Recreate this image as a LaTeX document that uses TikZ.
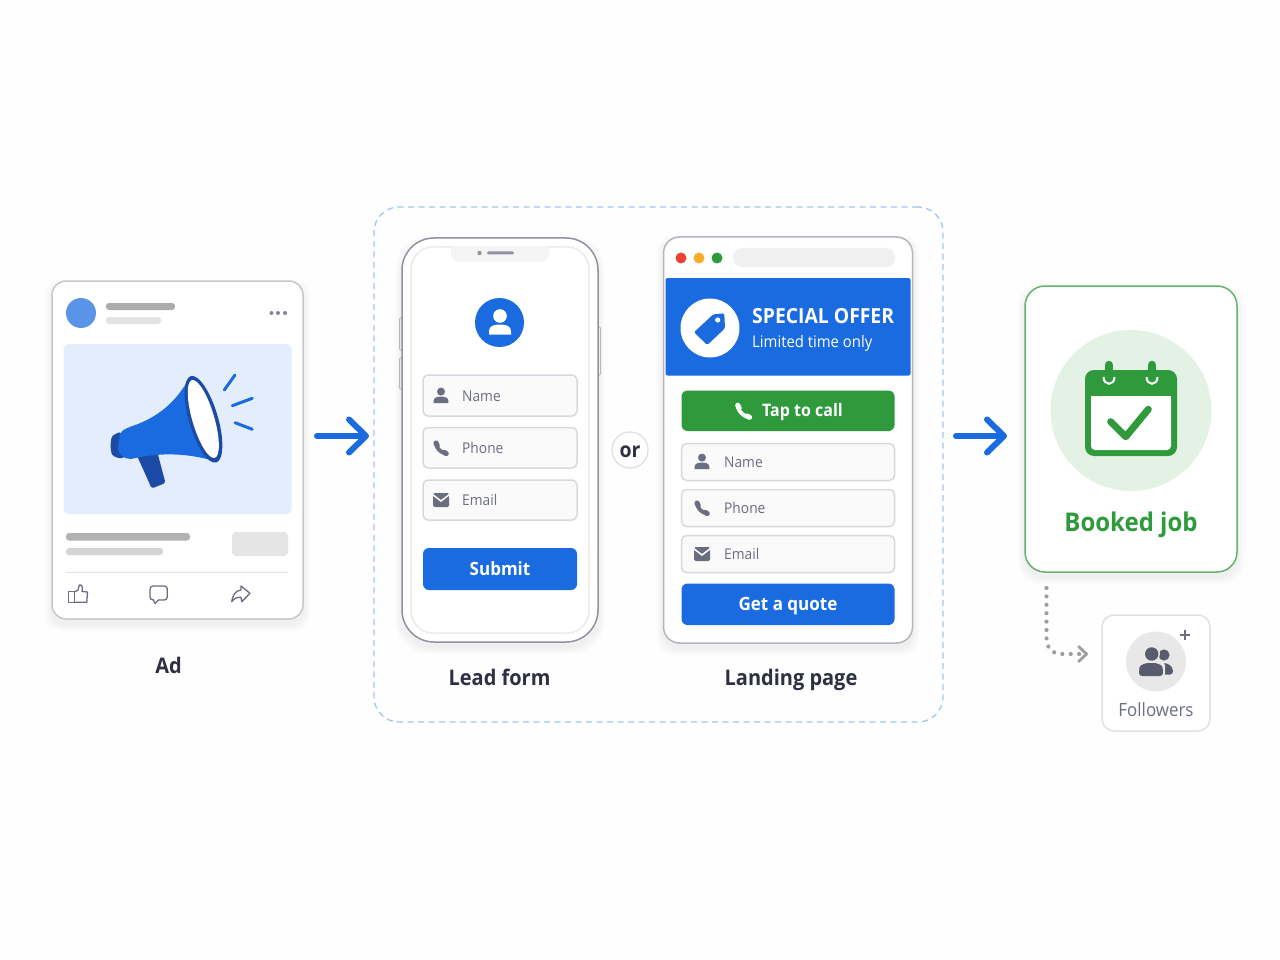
\documentclass[tikz,border=0pt]{standalone}
\usepackage{fontspec}
\setmainfont{Open Sans}[FakeStretch=0.93]
\usetikzlibrary{arrows.meta,calc}
\definecolor{brand}{HTML}{1A6BE0}
\definecolor{branddark}{HTML}{1B4BA6}
\definecolor{go}{HTML}{2E9A3B}
\definecolor{ink}{HTML}{2D3040}
\definecolor{slate}{HTML}{6B6E80}
\definecolor{line}{HTML}{D8D9DE}
\tikzset{
  x=1pt,y=-1pt,
  box/.style={draw=none,rectangle,inner sep=0pt,outer sep=0pt},
  card/.style={box,draw=#1,fill=white,line width=1.5pt},
  field/.style={box,draw=line,fill=white!98!black,line width=1.5pt,rounded corners=5pt},
  action/.style={box,fill=#1,text=white,font=\fontsize{18.3}{20}\selectfont\bfseries,rounded corners=6pt,text height=15pt,text depth=2pt},
  caption/.style={inner sep=0pt,text=ink,font=\fontsize{21.5}{24}\selectfont\bfseries,text height=16pt,text depth=5pt},
  hint/.style={inner sep=0pt,anchor=west,text=slate,font=\fontsize{14.8}{16}\selectfont},
  flow/.style={draw=brand,line width=6pt,line cap=round,-{Straight Barb[length=17pt,width=33pt,line width=6pt,round]}},
  icon/.style={fill=slate,draw=none},
  outline/.style={draw=slate,line width=1.3pt,fill=none,line join=round,line cap=round},
}
% Box node given by its corners
\newcommand\panel[7][]{%
  \pgfmathsetmacro\cxx{(#4+#6)/2}\pgfmathsetmacro\cyy{(#5+#7)/2}%
  \pgfmathsetmacro\wdd{#6-#4}\pgfmathsetmacro\htt{#7-#5}%
  \node[#3,minimum width=\wdd pt,minimum height=\htt pt] (#2) at (\cxx,\cyy) {#1};}
% Soft drop shadow built from stacked translucent outlines
\newcommand\softshadow[5]{%
  \foreach \g in {1,2,...,7}{%
    \fill[black,opacity=0.008,rounded corners=#5 pt]
      (#1-\g,#2-\g+5) rectangle (#3+\g,#4+\g+5);}}
% Small field glyphs
\newcommand\personglyph[2]{\begin{scope}[shift={(#1,#2)}]
  \fill[icon] (0,-4.4) circle (4);
  \fill[icon] (-7.3,7) -- (-7.3,4.6) .. controls (-7.3,1.4) and (-3.5,0.6) .. (0,0.6)
     .. controls (3.5,0.6) and (7.3,1.4) .. (7.3,4.6) -- (7.3,7) -- cycle;
\end{scope}}
\newcommand\phonepath[1]{%
  \draw[#1,line width=3.8pt,line cap=round] (-4.6,-3) .. controls (-3.8,0.6) and (-0.6,4) .. (3.6,5);
  \draw[#1,line width=5.2pt,line cap=round] (-5,-5) -- (-3.8,-2.4);
  \draw[#1,line width=5.2pt,line cap=round] (2.8,4.4) -- (5.2,5.4);}
\newcommand\phoneglyph[2]{\begin{scope}[shift={(#1,#2)}]\phonepath{slate}\end{scope}}
\newcommand\mailglyph[2]{\begin{scope}[shift={(#1,#2)}]
  \fill[icon,rounded corners=1.5pt] (-8,-7) rectangle (8,7);
  \draw[white,line width=1.5pt] (-8.5,-5.5) -- (0,1) -- (8.5,-5.5);
\end{scope}}
\begin{document}
\begin{tikzpicture}
\useasboundingbox (0,0) rectangle (1280,960);
\fill[white!99.5!blue] (0,0) rectangle (1280,960);

% Dashed group around the two capture options
\panel{group}{box,draw=brand!40!white,dashed,dash pattern=on 6pt off 4.5pt,line width=1.3pt,rounded corners=25pt}{374}{207}{943}{722}

% ---- Ad card ----
\softshadow{52}{281}{303}{619}{14}
\panel{ad}{card=black!22!white,rounded corners=14pt}{52}{281}{303}{619}
\fill[brand!72!white] (81,313) circle (15);
\fill[black!33!white,rounded corners=3pt] (106,303) rectangle (175,310);
\fill[black!11!white,rounded corners=3pt] (106,317) rectangle (161,324);
\foreach \d in {271.5,278,285}{\fill[slate!85!white] (\d,313) circle (2);}
\fill[brand!12!white,rounded corners=5pt] (63.5,344) rectangle (291.5,514);
% megaphone
\fill[branddark,rounded corners=4pt] (122,432) -- (116,433) .. controls (110,438) and (110,452) .. (115,458) -- (126,458) -- cycle;
\fill[branddark,rounded corners=2.5pt] (136.7,455) -- (157,451) -- (165.5,483) -- (151.7,488.5) -- cycle;
\fill[brand] (120,434) .. controls (122,429) and (130,427) .. (138,424)
   .. controls (160,415) and (176,402) .. (190,377) -- (217,462)
   .. controls (190,453) and (160,452) .. (131,459) .. controls (124,459) and (118,455) .. (118,447) -- cycle;
\fill[branddark,shift={(203.5,419.3)},rotate=-73.6] (0,0) ellipse [x radius=45,y radius=14.5];
\fill[white,shift={(203.3,419)},rotate=-73.6] (0,0) ellipse [x radius=40.5,y radius=11];
\draw[brand,line width=3pt,line cap=round] (224.3,390) -- (235,375)
   (232.3,405.7) -- (252.3,398.3) (235,422.7) -- (252.3,429.3);
\fill[black!30!white,rounded corners=3pt] (66,533) rectangle (190,540.5);
\fill[black!17!white,rounded corners=3pt] (66,548) rectangle (163,555);
\fill[black!10!white,rounded corners=4pt] (232,532) rectangle (288,556);
\draw[black!10!white,line width=1pt] (66,572) -- (288,572);
% reactions
\draw[outline] (68.3,591.7) rectangle (74.3,602.3);
\draw[outline] (74.3,592) -- (78,590) -- (79.3,585) .. controls (82,584.5) and (83,587) .. (82,591.5)
   -- (87.5,592) -- (86.8,602.3) -- (74.3,602.3);
\draw[outline,rounded corners=3pt] (150,586) rectangle (167.3,600);
\fill[white] (153.5,599) rectangle (158,601);
\draw[outline] (153.5,600) -- (155,603.5) -- (158.5,600);
\draw[outline] (250,593.3) -- (241,586) -- (241,590) .. controls (235,590.5) and (232.5,596) .. (231.7,601.7)
   .. controls (234,598.5) and (237,597) .. (241,597.3) -- (241.7,601.7) -- cycle;
\node[caption] (adlabel) at (168.5,667.7) {Ad};

% ---- Phone with lead form ----
\softshadow{402}{238}{598}{642}{32}
\foreach \yy/\hh in {318/350,358/389}{\fill[black!6!white,draw=black!28!white,line width=1pt,rounded corners=1pt] (399.5,\yy) rectangle (403,\hh);}
\fill[black!6!white,draw=black!28!white,line width=1pt,rounded corners=1pt] (597,327) rectangle (600.5,375);
\panel{phone}{card=slate!75!white,rounded corners=32pt}{402}{238}{598}{642}
\panel{screen}{box,draw=black!8!white,fill=white,line width=1.5pt,rounded corners=22pt}{411}{247}{589}{633}
\fill[black!4!white,rounded corners=8pt] (451,240) rectangle (549,262);
\fill[white] (440,238.8) rectangle (560,246.2);
\fill[slate!75!white] (479.5,253) circle (2.2);
\fill[slate!75!white,rounded corners=1.4pt] (487,251.5) rectangle (514,254.5);
\panel{avatar}{box,circle,fill=brand,minimum size=49pt}{475}{298}{524}{347}
\fill[white] (500,316) circle (6.8);
\fill[white] (489,334.5) -- (489,331) .. controls (489,326) and (494,324.5) .. (500,324.5)
   .. controls (506,324.5) and (511,326) .. (511,331) -- (511,334.5) -- cycle;
\panel{fname}{field}{423}{375}{577}{416}
\personglyph{441}{396}
\node[hint] (fnamet) at (462,396) {Name};
\panel{fphone}{field}{423}{427.5}{577}{468}
\phoneglyph{441}{448}
\node[hint] (fphonet) at (462,448) {Phone};
\panel{fmail}{field}{423}{480}{577}{520}
\mailglyph{441}{500}
\node[hint] (fmailt) at (462,500) {Email};
\panel[Submit]{submit}{action=brand}{423}{548}{577}{590}
\node[caption] (leadlabel) at (499.5,679.5) {Lead form};

% ---- "or" badge ----
\panel[or]{orbadge}{box,circle,draw=black!12!white,fill=white,line width=1.3pt,minimum size=36pt,text=ink,font=\fontsize{21}{22}\selectfont\bfseries,text height=14pt,text depth=0pt}{612}{432}{648}{468}

% ---- Browser with landing page ----
\softshadow{663.5}{237}{912.5}{643}{16}
\panel{browser}{card=slate!50!white,rounded corners=16pt}{663.5}{237}{912.5}{643}
\definecolor{dotred}{HTML}{EA4335}\definecolor{dotamber}{HTML}{F9AB2B}
\fill[dotred] (681,258) circle (5.5);
\fill[dotamber] (699,258) circle (5.5);
\fill[go] (717,258) circle (5.5);
\fill[black!6!white,rounded corners=9pt] (733,248) rectangle (895,267);
\panel{banner}{box,fill=brand,rounded corners=2pt}{665.5}{278}{910.5}{375.5}
\fill[white] (710,328) circle (29.5);
\fill[brand,rounded corners=1.6pt] (724.3,313.3) -- (713.3,314.3) -- (694,332.3) -- (707.3,345) -- (725,328.3) -- cycle;
\fill[white] (717.7,320) circle (2.6);
\node[inner sep=0pt,anchor=west,text=white,font=\fontsize{20.8}{24}\selectfont\bfseries] (offer) at (752,316.5) {SPECIAL OFFER};
\node[inner sep=0pt,anchor=west,text=white,font=\fontsize{16}{18}\selectfont] (limited) at (752,343.5) {Limited time only};
\panel{tap}{action=go}{681.5}{390.5}{894.5}{431}
\begin{scope}[shift={(743.5,411)},scale=1.15]\phonepath{white}\end{scope}
\node[inner sep=0pt,anchor=west,text=white,font=\fontsize{17.2}{20}\selectfont\bfseries] (tapt) at (762,412.5) {Tap to call};
\panel{lname}{field}{681.5}{443.5}{894.5}{480.5}
\personglyph{702}{462}
\node[hint] (lnamet) at (724,462.5) {Name};
\panel{lphone}{field}{681.5}{489.5}{894.5}{526.5}
\phoneglyph{702}{508}
\node[hint] (lphonet) at (724,508) {Phone};
\panel{lmail}{field}{681.5}{535.5}{894.5}{572.5}
\mailglyph{702}{554}
\node[hint] (lmailt) at (724,554) {Email};
\panel[Get a quote]{quote}{action=brand}{681.5}{583.5}{894.5}{625}
\node[caption] (landlabel) at (791,679.5) {Landing page};

% ---- Booked job card ----
\softshadow{1025}{286}{1237}{572}{20}
\panel{booked}{card=go!75!white,rounded corners=20pt}{1025}{286}{1237}{572}
\fill[go!13!white] (1131,410.5) circle (80.5);
\fill[go,rounded corners=9pt] (1085,370) rectangle (1177,456);
\fill[white,rounded corners=4pt] (1091,396) rectangle (1171,450);
\fill[white] (1091,396) rectangle (1171,402);
\foreach \rx in {1109,1152}{
  \draw[white,line width=2pt] (\rx-5.5,377) .. controls (\rx-5.5,386) and (\rx+5.5,386) .. (\rx+5.5,377);
  \draw[go,line width=8.5pt,line cap=round] (\rx,365) -- (\rx,376);
}
\draw[go,line width=7pt,line cap=round,line join=round] (1110.7,421.7) -- (1125.7,436.7) -- (1148.3,409.3);
\node[inner sep=0pt,text=go,font=\fontsize{25.8}{28}\selectfont\bfseries] (bookedt) at (1131,525) {Booked job};

% ---- Followers card ----
\panel{followers}{card=black!12!white,rounded corners=12pt}{1102}{615}{1210}{731}
\fill[black!9!white] (1156,661.5) circle (30);
\fill[slate!70!ink] (1164,655) circle (5.6);
\fill[slate!70!ink,rounded corners=3pt] (1160,663) .. controls (1168,663) and (1173,666) .. (1173,674.5) -- (1160,674.5) -- cycle;
\fill[black!9!white] (1151.7,654) circle (8.2);
\fill[black!9!white,rounded corners=4pt] (1137.5,661.5) rectangle (1165,678);
\fill[slate!70!ink] (1151.7,654) circle (6.7);
\fill[slate!70!ink,rounded corners=3pt] (1139,676) -- (1139,670) .. controls (1140,665) and (1146,663) .. (1151,663)
   .. controls (1157,663) and (1162,665) .. (1163,670) -- (1163,676) -- cycle;
\draw[slate,line width=2pt] (1180,635) -- (1190,635) (1185,630) -- (1185,640);
\node[inner sep=0pt,text=slate,font=\fontsize{18.2}{20}\selectfont] (followerst) at (1156,710) {Followers};

% ---- Connectors ----
\coordinate (flowrow) at (0,436);
\coordinate (dropcol) at (1046.5,0);
\coordinate (droprow) at (0,654);
\draw[flow,shorten <=14pt,shorten >=5pt] (ad.east |- flowrow) -- (group.west |- flowrow);
\draw[flow,shorten <=13pt,shorten >=18pt] (group.east |- flowrow) -- (booked.west |- flowrow);
\draw[black!38!white,line width=4.2pt,line cap=round,dash pattern=on 0pt off 8.4pt,shorten <=16pt,shorten >=14pt,
      -{Straight Barb[length=8pt,width=15pt,line width=2.8pt,round]}]
  (booked.south -| dropcol) -- (1046.5,638) .. controls (1046.5,648) and (1052,654) .. (1062,654) -- (followers.west |- droprow);
\end{tikzpicture}
\end{document}
